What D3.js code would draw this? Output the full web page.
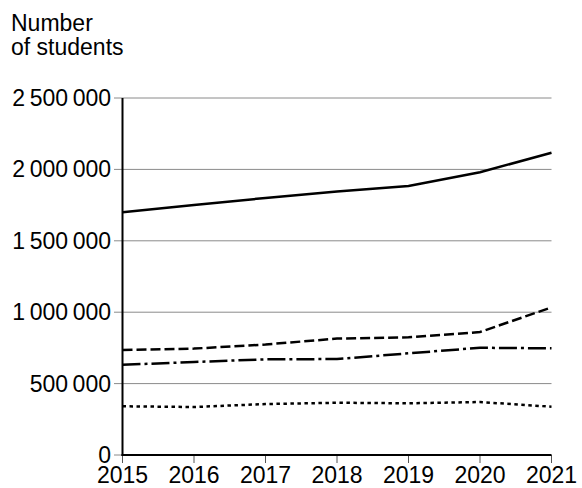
<!DOCTYPE html>
<html>
<head>
<meta charset="utf-8">
<script src="https://cdn.jsdelivr.net/npm/d3@7"></script>
<style>
  body { margin: 0; background: #fff; }
  text { font-family: "Liberation Sans", Arial, sans-serif; }
</style>
</head>
<body>
<div id="chart"></div>
<script>
// Data
const years = [2015, 2016, 2017, 2018, 2019, 2020, 2021];
const solidSeries = [1700000, 1750000, 1800000, 1845000, 1884000, 1980000, 2117000];
const dashedSeries = [735000, 745000, 774000, 815000, 824000, 861000, 1034000];
const dashDotSeries = [632000, 651000, 670000, 672000, 712000, 751000, 747000];
const dottedSeries = [341000, 336000, 357000, 366000, 362000, 371000, 338000];
const yTicks = [0, 500000, 1000000, 1500000, 2000000, 2500000];

const series = [
    { values: solidSeries, dash: null },
    { values: dashedSeries, dash: "10,4" },
    { values: dashDotSeries, dash: "18,4,3,4" },
    { values: dottedSeries, dash: "3.5,3.5" }
];

const width = 582, height = 488;
const svg = d3.select("#chart").append("svg").attr("width", width).attr("height", height);

const x = d3.scaleLinear().domain([2015, 2021]).range([122.5, 551.5]);
const y = d3.scaleLinear().domain([0, 2500000]).range([455, 98]);

// title
svg.append("text").attr("x", 11).attr("y", 31).attr("font-size", 23).text("Number");
svg.append("text").attr("x", 11).attr("y", 55).attr("font-size", 23).text("of students");

// gridlines
svg.append("g").selectAll("line")
    .data(yTicks.slice(1))
    .enter().append("line")
    .attr("x1", 114).attr("x2", x(2021))
    .attr("y1", d => y(d)).attr("y2", d => y(d))
    .attr("stroke", "#8a8a8a").attr("stroke-width", 1);
svg.append("line").attr("x1", 114).attr("x2", x(2015))
    .attr("y1", y(0)).attr("y2", y(0))
    .attr("stroke", "#8a8a8a").attr("stroke-width", 1);

// y labels
const fmt = d => d3.format(",")(d).replace(/,/g, "\u2009");
svg.append("g").selectAll("text")
    .data(yTicks)
    .enter().append("text")
    .attr("x", 111).attr("y", d => y(d) + 8)
    .attr("text-anchor", "end").attr("font-size", 23)
    .text(fmt);

// x ticks
svg.append("g").selectAll("line")
    .data(years)
    .enter().append("line")
    .attr("x1", d => x(d)).attr("x2", d => x(d))
    .attr("y1", y(0)).attr("y2", y(0) + 8)
    .attr("stroke", "#555").attr("stroke-width", 1);

svg.append("g").selectAll("text")
    .data(years)
    .enter().append("text")
    .attr("x", d => x(d)).attr("y", 483)
    .attr("text-anchor", "middle").attr("font-size", 23)
    .text(d => d);

// lines
const line = d3.line().x((d, i) => x(years[i])).y(d => y(d));
series.forEach(s => {
    svg.append("path")
        .datum(s.values)
        .attr("fill", "none")
        .attr("stroke", "#000")
        .attr("stroke-width", 2.5)
        .attr("stroke-dasharray", s.dash)
        .attr("d", line);
});

// axes
svg.append("line").attr("x1", x(2015)).attr("x2", x(2015))
    .attr("y1", y(2500000)).attr("y2", y(0) + 1)
    .attr("stroke", "#000").attr("stroke-width", 2);
svg.append("line").attr("x1", x(2015) - 1).attr("x2", x(2021))
    .attr("y1", y(0)).attr("y2", y(0))
    .attr("stroke", "#000").attr("stroke-width", 2);
</script>
</body>
</html>
